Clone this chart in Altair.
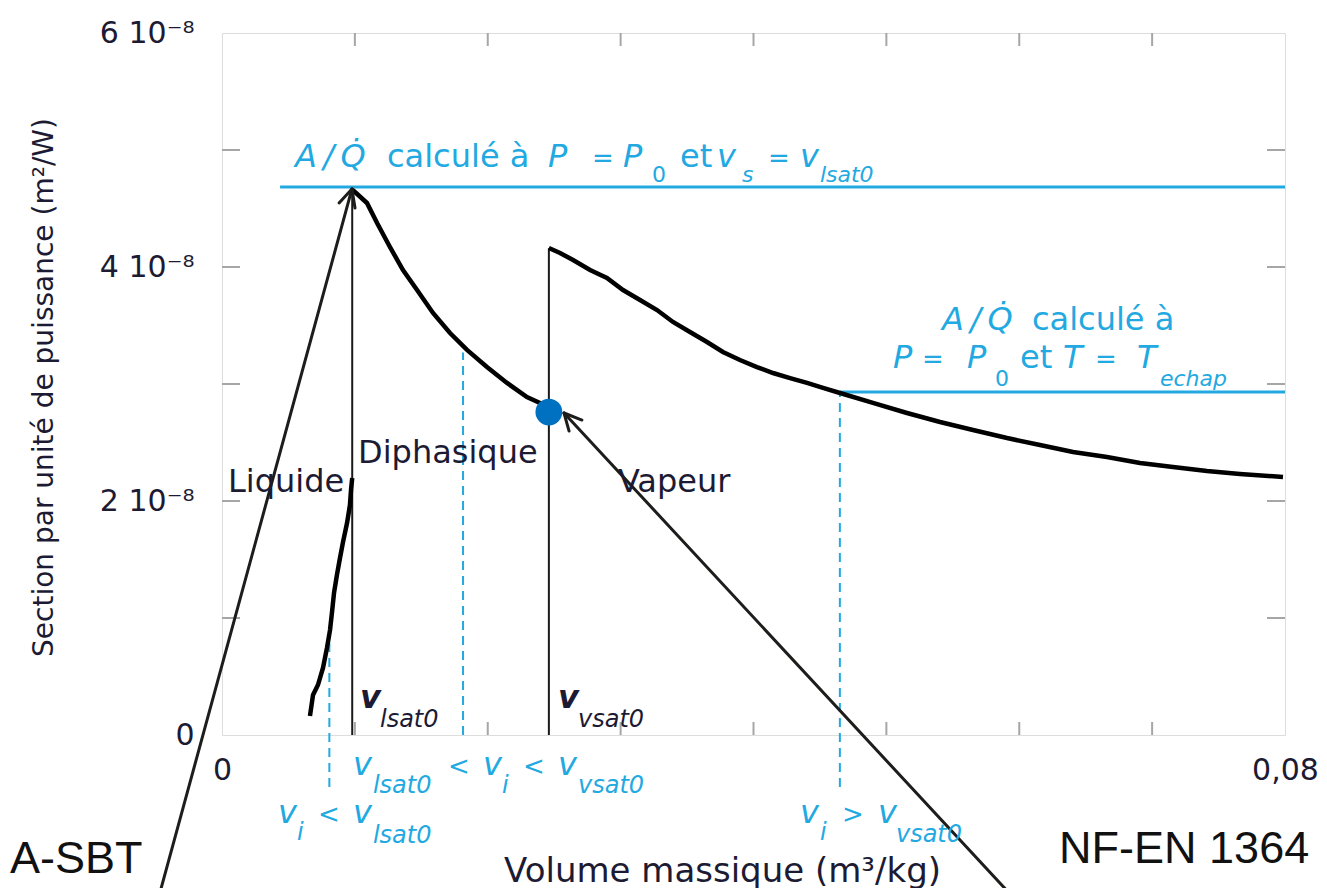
import altair as alt
import pandas as pd

# ---------------- data (x in m3/kg, y in units of 1e-8 m2/W) ----------------
liq_x = [0.00662, 0.00685, 0.00722, 0.00760, 0.00790, 0.00813, 0.00828, 0.00843,
         0.00865, 0.00888, 0.00911, 0.00941, 0.00963, 0.00971, 0.00980]
liq_y = [0.162, 0.342, 0.427, 0.573, 0.744, 0.897, 1.051, 1.214,
         1.368, 1.513, 1.650, 1.812, 1.966, 2.094, 2.197]

di_x = [0.00980, 0.01001, 0.01091, 0.01167, 0.01264, 0.01362, 0.01468, 0.01588,
        0.01716, 0.01844, 0.01994, 0.02145, 0.02295, 0.02393, 0.02453]
di_y = [4.660, 4.641, 4.547, 4.376, 4.171, 3.974, 3.803, 3.607,
        3.436, 3.291, 3.145, 3.009, 2.889, 2.838, 2.803]

vap_x = [0.02460, 0.02544, 0.02642, 0.02770, 0.02897, 0.03018, 0.03146, 0.03274,
         0.03394, 0.03522, 0.03650, 0.03770, 0.03898, 0.04026, 0.04147, 0.04275,
         0.04403, 0.04523, 0.04651, 0.04899, 0.05155, 0.05404, 0.05652, 0.05908,
         0.06156, 0.06405, 0.06660, 0.06909, 0.07157, 0.07413, 0.07661, 0.07985]
vap_y = [4.162, 4.120, 4.060, 3.974, 3.906, 3.803, 3.718, 3.632,
         3.530, 3.444, 3.359, 3.274, 3.205, 3.145, 3.094, 3.051,
         3.009, 2.966, 2.923, 2.838, 2.752, 2.675, 2.607, 2.538,
         2.479, 2.419, 2.376, 2.325, 2.291, 2.256, 2.231, 2.205]

# saturation verticals
sat_x = [0.0098, 0.0246]
sat_top = [4.66, 4.16]

# blue horizontal A/Q levels
hz_x0 = [0.00437, 0.0465]
hz_x1 = [0.08, 0.08]
hz_y = [4.684, 2.932]

# blue dashed markers
dash_x = [0.00808, 0.01814, 0.0465]
dash_y0 = [-0.444, 0.0, -0.444]
dash_y1 = [0.81, 3.27, 2.932]

# highlighted point
dot_x = [0.0246]
dot_y = [2.76]

# arrows (shaft + two head strokes each)
arr_x0 = [-0.00474, 0.00978, 0.00978, 0.05945, 0.02574, 0.02574]
arr_y0 = [-1.376, 4.667, 4.667, -1.376, 2.752, 2.752]
arr_x1 = [0.00978, 0.00881, 0.01001, 0.02574, 0.02709, 0.02612]
arr_y1 = [4.667, 4.547, 4.504, 2.752, 2.692, 2.598]

# inward ticks
xtick_vals = [0.01, 0.02, 0.03, 0.04, 0.05, 0.06, 0.07]
ytick_vals = [1, 2, 3, 4, 5]

# text annotations
AQ = "A\u2009/\u2009Q\u0307"
t_text = [AQ, "calculé à", "P", "=", "P", "0", "et", "v", "s", "=", "v", "lsat0",
          AQ, "calculé à", "P", "=", "P", "0", "et", "T", "=", "T", "echap",
          "v", "lsat0", "v", "vsat0",
          "v", "lsat0", "<", "v", "i", "<", "v", "vsat0",
          "v", "i", "<", "v", "lsat0",
          "v", "i", ">", "v", "vsat0",
          "Liquide", "Diphasique", "Vapeur",
          "A-SBT", "NF-EN 1364"]
t_x = [0.00549, 0.01242, 0.02453, 0.02785, 0.03018, 0.03236, 0.03447, 0.03725, 0.03913, 0.04109, 0.04350, 0.04500,
       0.05419, 0.06096, 0.05050, 0.05268, 0.05607, 0.05818, 0.06006, 0.06329, 0.06570, 0.06886, 0.07059,
       0.01039, 0.01189, 0.02529, 0.02679,
       0.00986, 0.01136, 0.01701, 0.01964, 0.02107, 0.02265, 0.02529, 0.02679,
       0.00421, 0.00564, 0.00722, 0.00986, 0.01136,
       0.04350, 0.04500, 0.04666, 0.04937, 0.05072,
       0.00045, 0.01024, 0.02980,
       -0.01595, 0.06300]
t_y = [4.855, 4.855, 4.855, 4.855, 4.855, 4.726, 4.855, 4.855, 4.726, 4.855, 4.855, 4.726,
       3.462, 3.462, 3.137, 3.137, 3.137, 2.983, 3.137, 3.137, 3.137, 3.137, 2.983,
       0.231, 0.068, 0.231, 0.068,
       -0.342, -0.496, -0.342, -0.342, -0.496, -0.342, -0.342, -0.496,
       -0.752, -0.897, -0.752, -0.752, -0.923,
       -0.752, -0.897, -0.752, -0.752, -0.915,
       2.077, 2.325, 2.077,
       -1.179, -1.094]
t_kind = ["b_it", "b", "b_it", "b_op", "b_it", "b_sub", "b", "b_it", "b_sub_it", "b_op", "b_it", "b_sub_it",
          "b_it", "b", "b_it", "b_op", "b_it", "b_sub", "b", "b_it", "b_op", "b_it", "b_sub_it",
          "d_v", "d_sub", "d_v", "d_sub",
          "b_v", "b_sub24", "b_op", "b_v", "b_sub24", "b_op", "b_v", "b_sub24",
          "b_v", "b_sub24", "b_op", "b_v", "b_sub24",
          "b_v", "b_sub24", "b_op", "b_v", "b_sub24",
          "region", "region", "region",
          "corner", "corner"]

# ---------------- styling ----------------
BLUE = "#22A9E1"
DARK = "#1c1b33"
FRAME = "#a6a6a6"
FONT = "DejaVu Sans"

styles = {
    "b": dict(font=FONT, fontSize=32, color=BLUE),
    "b_it": dict(font=FONT, fontSize=32, fontStyle="italic", color=BLUE),
    "b_op": dict(font=FONT, fontSize=26, color=BLUE),
    "b_sub": dict(font=FONT, fontSize=22, color=BLUE),
    "b_sub_it": dict(font=FONT, fontSize=22, fontStyle="italic", color=BLUE),
    "b_v": dict(font=FONT, fontSize=32, fontStyle="italic", color=BLUE),
    "b_sub24": dict(font=FONT, fontSize=24, fontStyle="italic", color=BLUE),
    "d_v": dict(font=FONT, fontSize=32, fontStyle="italic", fontWeight="bold", color=DARK),
    "d_sub": dict(font=FONT, fontSize=24, fontStyle="italic", color=DARK),
    "region": dict(font=FONT, fontSize=32, color=DARK),
    "corner": dict(font="Liberation Sans", fontSize=45, color="#111111"),
}

xscale = alt.Scale(domain=[0, 0.08], nice=False, zero=False)
yscale = alt.Scale(domain=[0, 6], nice=False, zero=False)

xaxis = alt.Axis(values=[0, 0.08], labelExpr="datum.value == 0 ? '0' : '0,08'",
                 title="Volume massique (m³/kg)", grid=False, domain=False, ticks=False,
                 labelFont=FONT, labelFontSize=30, labelColor=DARK, labelPadding=20,
                 labelFlush=False, labelOverlap=False,
                 titleFont=FONT, titleFontSize=34, titleFontWeight="normal", titleColor=DARK,
                 titleX=500, titleY=146, titleAlign="center", titleBaseline="alphabetic")
yaxis = alt.Axis(values=[0, 2, 4, 6],
                 labelExpr="datum.value == 0 ? '0' : datum.value + ' 10⁻⁸'",
                 title="Section par unité de puissance (m²/W)", grid=False, domain=False, ticks=False,
                 labelFont=FONT, labelFontSize=30, labelColor=DARK, labelPadding=28,
                 labelFlush=False, labelOverlap=False, labelBaseline="middle",
                 titleFont=FONT, titleFontSize=28, titleFontWeight="normal", titleColor=DARK,
                 titleX=-170, titleY=354, titleAlign="center", titleBaseline="alphabetic")


def X(f):
    return alt.X(f, type="quantitative", scale=xscale, axis=xaxis)


def Y(f):
    return alt.Y(f, type="quantitative", scale=yscale, axis=yaxis)


curves = pd.DataFrame({
    "x": liq_x + di_x + vap_x,
    "y": liq_y + di_y + vap_y,
    "seg": ["liq"] * len(liq_x) + ["di"] * len(di_x) + ["vap"] * len(vap_x),
    "ord": list(range(len(liq_x))) + list(range(len(di_x))) + list(range(len(vap_x))),
})
sat = pd.DataFrame({"x": sat_x, "y": [0, 0], "y2": sat_top})
hz = pd.DataFrame({"x": hz_x0, "x2": hz_x1, "y": hz_y})
dash = pd.DataFrame({"x": dash_x, "y": dash_y0, "y2": dash_y1})
dot = pd.DataFrame({"x": dot_x, "y": dot_y})
arr = pd.DataFrame({"x": arr_x0, "y": arr_y0, "x2": arr_x1, "y2": arr_y1})
xt = pd.DataFrame({"x": xtick_vals})
yt = pd.DataFrame({"y": ytick_vals})
txt = pd.DataFrame({"x": t_x, "y": t_y, "text": t_text, "kind": t_kind})

layers = []

# inward ticks on the frame
tick_style = dict(color=FRAME, strokeWidth=2, clip=False)
layers.append(alt.Chart(xt).mark_rule(**tick_style).encode(x=X("x"), y=alt.value(702), y2=alt.value(689)))
layers.append(alt.Chart(xt).mark_rule(**tick_style).encode(x=X("x"), y=alt.value(0), y2=alt.value(13)))
layers.append(alt.Chart(yt).mark_rule(**tick_style).encode(y=Y("y"), x=alt.value(0), x2=alt.value(18)))
layers.append(alt.Chart(yt).mark_rule(**tick_style).encode(y=Y("y"), x=alt.value(1045), x2=alt.value(1063)))

# blue dashed markers
layers.append(alt.Chart(dash).mark_rule(color=BLUE, strokeWidth=2, strokeDash=[9, 6], clip=False)
              .encode(x=X("x"), y=Y("y"), y2="y2"))
# blue horizontal levels
layers.append(alt.Chart(hz).mark_rule(color=BLUE, strokeWidth=3, clip=False)
              .encode(x=X("x"), x2="x2", y=Y("y")))
# saturation verticals
layers.append(alt.Chart(sat).mark_rule(color="#1a1a1a", strokeWidth=2, clip=False)
              .encode(x=X("x"), y=Y("y"), y2="y2"))
# curves
layers.append(alt.Chart(curves).mark_line(color="#000000", strokeWidth=4.5, clip=False)
              .encode(x=X("x"), y=Y("y"), detail="seg:N", order="ord:Q"))
# arrows
layers.append(alt.Chart(arr).mark_rule(color="#1d1d1b", strokeWidth=3, strokeCap="round", clip=False)
              .encode(x=X("x"), y=Y("y"), x2="x2", y2="y2"))
# point
layers.append(alt.Chart(dot).mark_point(filled=True, color="#0070C0", size=720, opacity=1, clip=False)
              .encode(x=X("x"), y=Y("y")))

# text
for kind, st in styles.items():
    sub = txt[txt["kind"] == kind]
    layers.append(alt.Chart(sub).mark_text(align="left", baseline="alphabetic", clip=False, **st)
                  .encode(x=X("x"), y=Y("y"), text="text:N"))

chart = alt.layer(*layers).properties(
    width=1063, height=702,
    autosize=alt.AutoSizeParams(type="none"),
    padding={"left": 214, "top": 25, "right": 34, "bottom": 153},
).configure_view(stroke=FRAME, strokeWidth=2).configure(background="white")

chart.save("out.html", embed_options={"renderer": "svg", "actions": False})
